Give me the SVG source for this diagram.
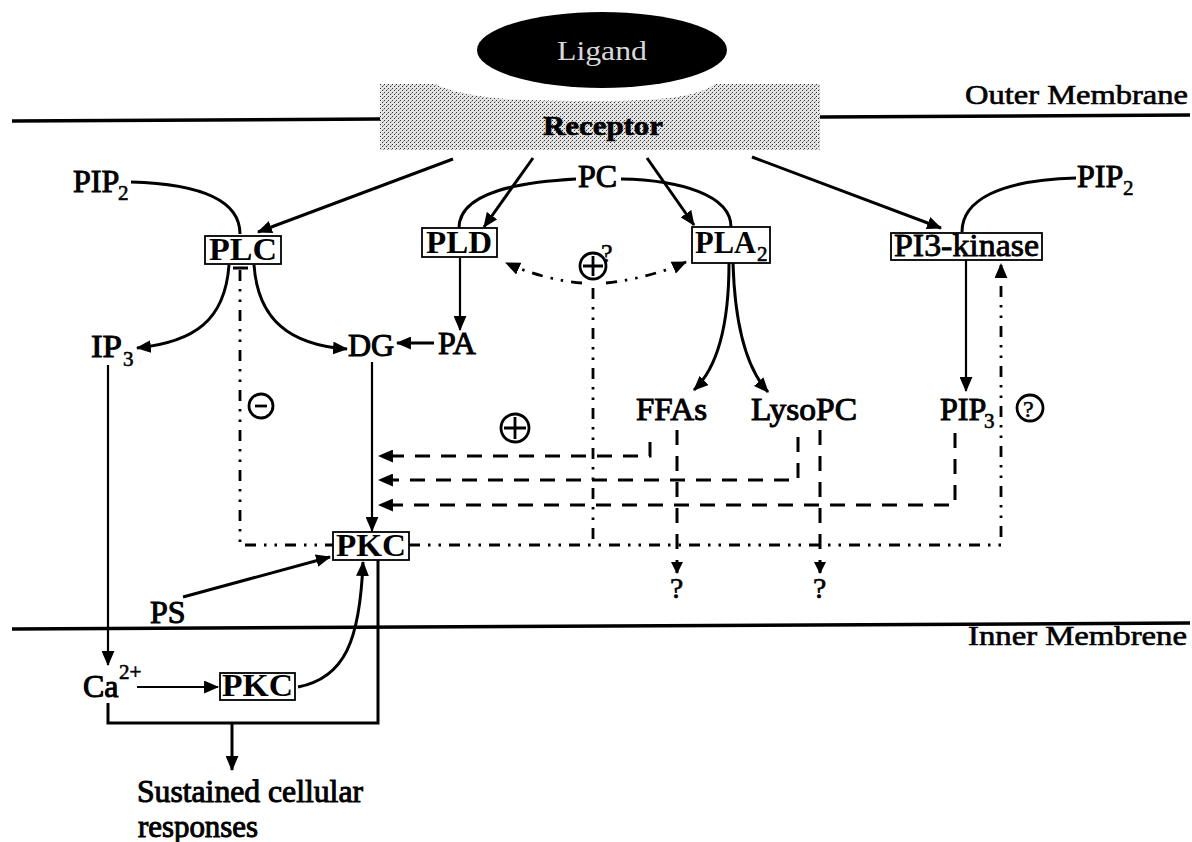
<svg xmlns="http://www.w3.org/2000/svg" width="1192" height="842" viewBox="0 0 1192 842">
<style>
text{font-family:"Liberation Serif","Times New Roman",serif;fill:#000}
.lbl{font-size:32px;stroke:#000;stroke-width:1}
.box-t{font-size:31px;font-weight:bold}
.sub{font-size:21px;stroke:#000;stroke-width:0.6}
.q{font-size:30px;stroke:#000;stroke-width:0.6}
.box{fill:#fff;stroke:#000;stroke-width:1.8}
.ln{fill:none;stroke:#000;stroke-width:3}
.ln2{fill:none;stroke:#000;stroke-width:2.2}
.dash{fill:none;stroke:#000;stroke-width:3;stroke-dasharray:15 11}
.dd{fill:none;stroke:#000;stroke-width:2.8;stroke-dasharray:11 8 2.5 8 2.5 8}
.mem{fill:none;stroke:#000;stroke-width:3.5}
.sym{fill:none;stroke:#000;stroke-width:2.8}
</style>
<defs>
<marker id="ah" viewBox="0 0 14 12" refX="13" refY="6" markerWidth="15" markerHeight="13" markerUnits="userSpaceOnUse" orient="auto">
<path d="M0,0 L14,6 L0,12 Z" fill="#000"/>
</marker>
<marker id="as" viewBox="0 0 12 12" refX="11" refY="6" markerWidth="12" markerHeight="12" markerUnits="userSpaceOnUse" orient="auto">
<path d="M0,0 L12,6 L0,12 Z" fill="#000"/>
</marker>
<pattern id="stip" width="4" height="4" patternUnits="userSpaceOnUse">
<rect width="4" height="4" fill="#e4e4e4"/>
<rect x="0" y="0" width="1" height="1" fill="#333"/>
<rect x="2" y="2" width="1" height="1" fill="#333"/>
<rect x="3" y="1" width="1" height="1" fill="#999"/>
</pattern>
</defs>
<rect width="1192" height="842" fill="#fff"/>

<g id="membranes">
<path class="mem" d="M12,121 L380,119"/>
<path class="mem" d="M820,117 L1190,115"/>
<path class="mem" d="M12,629 L1190,623"/>
<text x="965" y="104" font-size="27" textLength="223" lengthAdjust="spacingAndGlyphs" stroke="#000" stroke-width="0.6">Outer Membrane</text>
<text x="968" y="645" font-size="27" textLength="219" lengthAdjust="spacingAndGlyphs" stroke="#000" stroke-width="0.6">Inner Membrene</text>
</g>

<g id="receptor">
<path d="M380,84 L435,84 C470,100 520,101 600,101 C670,101 700,95 715,84 L820,84 L820,150 L380,150 Z" fill="url(#stip)"/>
<text x="543" y="135" font-size="28" font-weight="bold" textLength="120" lengthAdjust="spacingAndGlyphs" stroke="#000" stroke-width="0.6">Receptor</text>
</g>

<g id="ligand">
<ellipse cx="602" cy="50" rx="125" ry="38" fill="#000"/>
<text x="557" y="60" font-size="28" style="fill:#d8d8d8" textLength="90" lengthAdjust="spacingAndGlyphs">Ligand</text>
</g>

<g id="connectors">
<path class="ln" d="M453,159 L258,232" marker-end="url(#ah)"/>
<path class="ln" d="M533,158 L484,227" marker-end="url(#ah)"/>
<path class="ln" d="M647,158 L694,225" marker-end="url(#ah)"/>
<path class="ln" d="M752,157 L941,228" marker-end="url(#ah)"/>
<path class="ln" d="M131,182 C200,184 240,200 240,234"/>
<path class="ln" d="M576,179 C520,182 459,192 459,228"/>
<path class="ln" d="M621,179 C680,180 731,195 731,227"/>
<path class="ln" d="M1076,178 C1000,180 962,200 962,232"/>
<path class="ln" d="M229,265 C225,320 195,342 137,348" marker-end="url(#ah)"/>
<path class="ln" d="M254,265 C258,320 290,345 347,349" marker-end="url(#ah)"/>
<path class="ln2" d="M460,258 L460,330" marker-end="url(#ah)"/>
<path class="ln" d="M434,343 L397,343" marker-end="url(#ah)"/>
<path class="ln2" d="M372,362 L372,531" marker-end="url(#ah)"/>
<path class="ln" d="M729,263 C729,330 715,370 694,390" marker-end="url(#ah)"/>
<path class="ln" d="M733,263 C735,330 748,370 768,392" marker-end="url(#ah)"/>
<path class="ln2" d="M966,260 L966,391" marker-end="url(#ah)"/>
<path class="ln2" d="M108,365 L108,665" marker-end="url(#ah)"/>
<path class="ln" d="M183,597 L330,557" marker-end="url(#ah)"/>
<path class="ln2" d="M137,687 L218,687" marker-end="url(#ah)"/>
<path class="ln" d="M298,687 C345,678 360,640 363,562" marker-end="url(#ah)"/>
<path class="ln" d="M378,560 L378,723 L108,723 L108,703"/>
<path class="ln" d="M232,723 L232,770" marker-end="url(#ah)"/>
<path class="dash" d="M650,442 L650,456 L379,456" marker-end="url(#ah)"/>
<path class="dash" d="M798,437 L798,480 L379,480" marker-end="url(#ah)"/>
<path class="dash" d="M955,433 L955,505 L379,505" marker-end="url(#ah)"/>
<path class="dash" d="M677,430 L677,573" marker-end="url(#as)"/>
<path class="dash" d="M820,430 L820,573" marker-end="url(#as)"/>
<path class="dd" d="M240,270 L240,545 L333,545"/>
<path class="ln" d="M233,268 L248,268"/>
<path class="dd" d="M409,545 L1001,545 L1001,264" marker-end="url(#ah)"/>
<path class="dd" d="M593,288 L593,545"/>
<path class="dd" d="M582,283 Q545,280 506,263" marker-end="url(#ah)"/>
<path class="dd" d="M606,283 Q650,278 686,262" marker-end="url(#ah)"/>
</g>

<g id="PIP2-left"><text class="lbl" x="73" y="192">PIP</text><text class="sub" x="118" y="200">2</text></g>
<g id="PIP2-right"><text class="lbl" x="1077" y="187">PIP</text><text class="sub" x="1123" y="195">2</text></g>
<g id="PC"><text class="lbl" x="578" y="187">PC</text></g>

<g id="PLC"><rect class="box" x="205" y="236" width="76" height="28"/><text class="box-t" x="209" y="260" textLength="68" lengthAdjust="spacingAndGlyphs">PLC</text></g>
<g id="PLD"><rect class="box" x="422" y="228" width="75" height="29"/><text class="box-t" x="426" y="253" textLength="66" lengthAdjust="spacingAndGlyphs">PLD</text></g>
<g id="PLA2"><rect class="box" x="692" y="227" width="78" height="36"/><text class="box-t" x="695" y="253" textLength="61" lengthAdjust="spacingAndGlyphs">PLA</text><text class="sub" x="757" y="261">2</text></g>
<g id="PI3-kinase"><rect class="box" x="891" y="233" width="151" height="27"/><text x="894" y="256" style="font-size:31px;font-weight:normal;stroke:#000;stroke-width:0.8" textLength="145" lengthAdjust="spacingAndGlyphs">PI3-kinase</text></g>

<g id="IP3"><text class="lbl" x="91" y="357" textLength="31" lengthAdjust="spacingAndGlyphs">IP</text><text class="sub" x="123" y="366">3</text></g>
<g id="DG"><text class="lbl" x="348" y="356">DG</text></g>
<g id="PA"><text class="lbl" x="438" y="354">PA</text></g>

<g id="FFAs"><text class="lbl" x="636" y="420" textLength="71" lengthAdjust="spacingAndGlyphs">FFAs</text></g>
<g id="LysoPC"><text class="lbl" x="751" y="420" textLength="106" lengthAdjust="spacingAndGlyphs">LysoPC</text></g>
<g id="PIP3"><text class="lbl" x="940" y="420">PIP</text><text class="sub" x="984" y="428">3</text></g>

<g id="q1"><text class="q" x="670" y="598">?</text></g>
<g id="q2"><text class="q" x="813" y="598">?</text></g>

<g id="minus-sym"><circle class="sym" cx="261" cy="406" r="12"/><path class="sym" d="M255,406 L267,406"/></g>
<g id="plus-sym"><circle class="sym" cx="515" cy="428" r="14"/><path class="sym" d="M515,417 L515,439 M504,428 L526,428"/></g>
<g id="plus-q-sym"><circle class="sym" cx="593" cy="266" r="13"/><path class="sym" d="M593,256 L593,276 M583,266 L603,266"/><text x="601" y="262" style="font-size:26px;stroke:#000;stroke-width:0.5">?</text></g>
<g id="q-sym"><circle class="sym" cx="1030" cy="408" r="13"/><text x="1023" y="417" style="font-size:24px;stroke:#000;stroke-width:0.5">?</text></g>

<g id="PKC-upper"><rect class="box" x="333" y="532" width="76" height="28"/><text class="box-t" x="336" y="556" textLength="70" lengthAdjust="spacingAndGlyphs">PKC</text></g>
<g id="PS"><text class="lbl" x="150" y="623">PS</text></g>
<g id="Ca"><text class="lbl" x="83" y="697">Ca</text><text class="sub" x="119" y="679">2+</text></g>
<g id="PKC-lower"><rect class="box" x="220" y="673" width="75" height="27"/><text class="box-t" x="222" y="696" textLength="71" lengthAdjust="spacingAndGlyphs">PKC</text></g>
<g id="responses"><text class="lbl" x="137" y="802" textLength="226" lengthAdjust="spacingAndGlyphs">Sustained cellular</text><text class="lbl" x="138" y="837" textLength="120" lengthAdjust="spacingAndGlyphs">responses</text></g>
</svg>
